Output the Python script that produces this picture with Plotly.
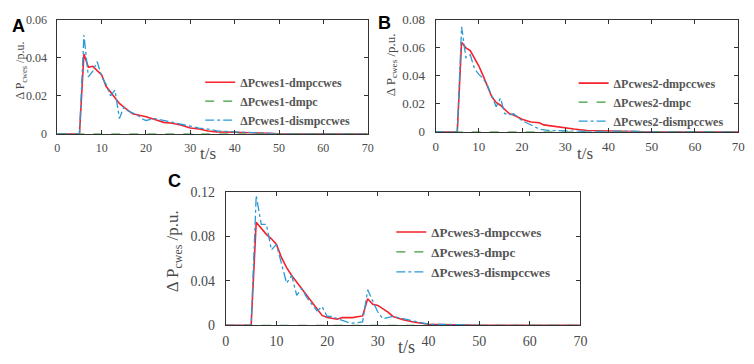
import plotly.graph_objects as go

# ---------------- data ----------------
A_t_red = [0, 5, 6, 7, 8, 9, 10, 11, 12, 13, 14, 15, 16, 17, 18, 20, 22, 24, 26, 28, 30, 32, 34, 36, 40, 45, 50, 70]
A_red = [0, 0, 0.042, 0.035, 0.0355, 0.033, 0.031, 0.025, 0.022, 0.019, 0.016, 0.014, 0.012, 0.0105, 0.010,
         0.009, 0.0075, 0.006, 0.0055, 0.0045, 0.003, 0.0025, 0.0015, 0.001, 0.0008, 0.0004, 0, 0]
A_t_blue = [0, 5, 6, 7, 8, 9, 10, 11, 12, 13, 14, 15, 16, 17, 18, 19, 20, 22, 24, 26, 28, 30, 32, 34, 36, 40, 45, 50, 70]
A_blue = [0, 0, 0.052, 0.030, 0.033, 0.038, 0.030, 0.026, 0.020, 0.023, 0.008, 0.014, 0.012, 0.011, 0.010, 0.008,
          0.007, 0.008, 0.007, 0.006, 0.005, 0.004, 0.003, 0.0025, 0.0015, 0.001, 0.0005, 0, 0]

B_t_red = [0, 5, 6, 7, 8, 9, 10, 11, 12, 13, 14, 15, 16, 17, 18, 20, 22, 24, 25, 27, 28, 30, 32, 35, 40, 45, 48, 70]
B_red = [0, 0, 0.064, 0.060, 0.058, 0.053, 0.047, 0.040, 0.032, 0.025, 0.021, 0.019, 0.016, 0.013, 0.012, 0.009,
         0.007, 0.0065, 0.005, 0.004, 0.004, 0.003, 0.002, 0.001, 0.0008, 0.0005, 0, 0]
B_t_blue = [0, 5, 6, 7, 8, 9, 10, 11, 12, 13, 14, 15, 16, 17, 18, 20, 22, 24, 26, 28, 30, 35, 45, 50, 70]
B_blue = [0, 0, 0.075, 0.053, 0.055, 0.045, 0.041, 0.038, 0.033, 0.026, 0.018, 0.024, 0.013, 0.012, 0.013, 0.008,
          0.005, 0.002, 0.001, 0.0008, 0.0005, 0.0003, 0.0005, 0, 0]

C_t_red = [0, 5, 6, 7, 8, 9, 10, 11, 12, 13, 14, 15, 16, 17, 18, 19, 20, 22, 23, 25, 27, 28, 29, 30, 32, 33, 35, 37,
           40, 45, 50, 70]
C_red = [0, 0, 0.093, 0.087, 0.082, 0.078, 0.073, 0.061, 0.052, 0.045, 0.039, 0.034, 0.028, 0.021, 0.015, 0.009,
         0.007, 0.0055, 0.007, 0.007, 0.0085, 0.024, 0.019, 0.018, 0.012, 0.008, 0.005, 0.003, 0.001, 0.0005, 0, 0]
C_t_blue = [0, 5, 6, 7, 8, 9, 10, 11, 12, 13, 14, 15, 16, 17, 18, 19, 20, 21, 22, 24, 25, 27, 28, 29, 30, 31, 33, 35,
            38, 40, 45, 50, 70]
C_blue = [0, 0, 0.117, 0.091, 0.091, 0.068, 0.073, 0.055, 0.038, 0.045, 0.027, 0.033, 0.025, 0.019, 0.013, 0.017,
          0.008, 0.008, 0.006, 0.003, 0.002, 0.003, 0.032, 0.022, 0.012, 0.006, 0.008, 0.006, 0.003, 0.001, 0.0007,
          0, 0]

T_green = [0, 70]
G_zero = [0, 0]

names_A = ["ΔPcwes1-dmpccwes", "ΔPcwes1-dmpc", "ΔPcwes1-dismpccwes"]
names_B = ["ΔPcwes2-dmpccwes", "ΔPcwes2-dmpc", "ΔPcwes2-dismpccwes"]
names_C = ["ΔPcwes3-dmpccwes", "ΔPcwes3-dmpc", "ΔPcwes3-dismpccwes"]

x_ticks = [0, 10, 20, 30, 40, 50, 60, 70]
yA_ticks = [0, 0.02, 0.04, 0.06]
yB_ticks = [0, 0.02, 0.04, 0.06, 0.08]
yC_ticks = [0, 0.04, 0.08, 0.12]

# ---------------- styles ----------------
OFF = 8                      # page body margin of the default html
W, H = 754 - OFF, 364 - OFF  # figure size so it fits the window
RED = "#f5222d"
GREEN = "#3c9a3c"
BLUE = "#2a9ad6"
SERIF = "Liberation Serif"
SANS = "Liberation Sans"
TXT = "#4a4a4a"


def fx(x):
    return min(1.0, max(0.0, (x - OFF) / W))


def fy(y):
    return min(1.0, max(0.0, 1 - (y - OFF) / H))


def px(x0, x1):
    return [fx(x0), fx(x1)]


def py(top, bottom):
    return [fy(bottom), fy(top)]


fig = go.Figure()

panels = [
    ("", "", A_t_red, A_red, A_t_blue, A_blue, names_A, "legend"),
    ("2", "2", B_t_red, B_red, B_t_blue, B_blue, names_B, "legend2"),
    ("3", "3", C_t_red, C_red, C_t_blue, C_blue, names_C, "legend3"),
]
for xs, ys, tr, vr, tb, vb, nm, lg in panels:
    fig.add_trace(go.Scatter(x=tr, y=vr, mode="lines", name=nm[0], xaxis="x" + xs, yaxis="y" + ys,
                             line=dict(color=RED, width=1.6), legend=lg))
    fig.add_trace(go.Scatter(x=T_green, y=G_zero, mode="lines", name=nm[1], xaxis="x" + xs, yaxis="y" + ys,
                             line=dict(color=GREEN, width=1.3, dash="dash"), legend=lg))
    fig.add_trace(go.Scatter(x=tb, y=vb, mode="lines", name=nm[2], xaxis="x" + xs, yaxis="y" + ys,
                             line=dict(color=BLUE, width=1.3, dash="dashdot"), legend=lg))


def xaxis(dom, anchor, fs):
    return dict(domain=dom, anchor=anchor, range=[0, 70], tickvals=x_ticks, ticks="inside", ticklen=4,
                tickcolor="#333", linecolor="#333", linewidth=1, mirror="ticks", showgrid=False,
                zeroline=False, tickfont=dict(family=SERIF, size=fs, color=TXT), ticklabelstandoff=3)


def yaxis(dom, anchor, rng, tv, fs):
    return dict(domain=dom, anchor=anchor, range=rng, tickvals=tv, ticks="inside", ticklen=4,
                tickcolor="#333", linecolor="#333", linewidth=1, mirror="ticks", showgrid=False,
                zeroline=False, tickfont=dict(family=SERIF, size=fs, color=TXT), ticklabelstandoff=7)


def legend(x_text, y_top, fs):
    return dict(x=fx(x_text - 40), y=fy(y_top), xanchor="left", yanchor="top",
                bgcolor="rgba(0,0,0,0)", borderwidth=0,
                font=dict(family=SERIF, size=fs, color="#555", weight="bold"), tracegroupgap=0)


fig.update_layout(
    width=W, height=H, margin=dict(l=0, r=0, t=0, b=0),
    paper_bgcolor="white", plot_bgcolor="white", showlegend=True,
    xaxis=xaxis(px(54, 369), "y", 12),
    yaxis=yaxis(py(13, 132), "x", [0, 0.06], yA_ticks, 12),
    xaxis2=xaxis(px(438, 745), "y2", 13),
    yaxis2=yaxis(py(13, 130), "x2", [0, 0.08], yB_ticks, 13),
    xaxis3=xaxis(px(225, 585), "y3", 14),
    yaxis3=yaxis(py(193, 332), "x3", [0, 0.12], yC_ticks, 14),
    legend=legend(239, 63, 12),
    legend2=legend(618, 64, 12),
    legend3=legend(433, 219, 13),
)

ann = []
# panel letters
for txt, x, y in [("A", 15, 19), ("B", 386, 16), ("C", 173, 181)]:
    ann.append(dict(text="<b>%s</b>" % txt, x=fx(x), y=fy(y), xref="paper", yref="paper",
                    showarrow=False, font=dict(family=SANS, size=18, color="black"),
                    xanchor="center", yanchor="middle"))
# y titles
for x, y, fs in [(17, 66, 12), (393, 60, 13), (172, 255, 17)]:
    ann.append(dict(text="Δ P<sub>cwes</sub> /p.u.", x=fx(x), y=fy(y), xref="paper", yref="paper",
                    showarrow=False, textangle=-90, font=dict(family=SERIF, size=fs, color=TXT),
                    xanchor="center", yanchor="middle"))
# x titles
for x, y, fs in [(207, 153, 17), (590, 153, 17), (408, 355, 18)]:
    ann.append(dict(text="t/s", x=fx(x), y=fy(y), xref="paper", yref="paper",
                    showarrow=False, font=dict(family=SERIF, size=fs, color=TXT),
                    xanchor="center", yanchor="middle"))
fig.update_layout(annotations=ann)

fig.write_html("out.html")
